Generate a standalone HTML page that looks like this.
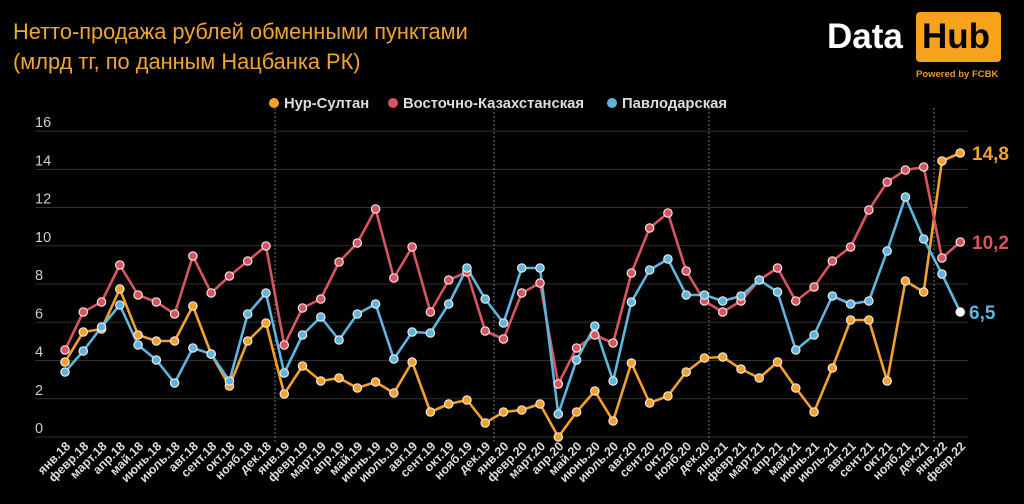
<!DOCTYPE html>
<html><head><meta charset="utf-8">
<style>
html,body{margin:0;padding:0;background:#000;}
body{width:1024px;height:504px;overflow:hidden;position:relative;font-family:"Liberation Sans",sans-serif;}
.t{position:absolute;left:13px;color:#f0a530;font-size:21.8px;}
</style></head><body>
<div class="t" style="top:19px">Нетто-продажа рублей обменными пунктами</div>
<div class="t" style="top:49px">(млрд тг, по данным Нацбанка РК)</div>
<div style="position:absolute;left:827px;top:17px;color:#fff;font-weight:bold;font-size:35px;">Data</div>
<div style="position:absolute;left:916px;top:12px;width:85px;height:50px;background:#f7a21b;border-radius:4px;"></div>
<div style="position:absolute;left:922px;top:17px;color:#000;font-weight:bold;font-size:35px;">Hub</div>
<div style="position:absolute;left:916px;top:69px;color:#e8962a;font-weight:bold;font-size:9.5px;">Powered by FCBK</div>
<svg id="s" width="1024" height="504" style="position:absolute;left:0;top:0" xmlns="http://www.w3.org/2000/svg"></svg>
<script>
var NS="http://www.w3.org/2000/svg",s=document.getElementById('s');
function el(n,a,t){var e=document.createElementNS(NS,n);for(var k in a)e.setAttribute(k,a[k]);if(t!=null)e.textContent=t;s.appendChild(e);return e;}
for(var v=0;v<=16;v+=2){var y=437-v*19.12;el('line',{x1:35,x2:968,y1:y,y2:y,stroke:'#303030','stroke-width':1});el('text',{x:35,y:y-4,fill:'#ccc','font-size':14.5,'font-family':'Liberation Sans'},v);}
[275,494,709,934].forEach(function(x){el('line',{x1:x,x2:x,y1:108,y2:442,stroke:'#777','stroke-width':1,'stroke-dasharray':'2,2'});});
var X=function(i){return 65+18.27*i;};
var O=[362,332,329,289,335,341,341,306,354,386,341,323,394,366,381,378,388,382,393,362,412,404,400,423,412,410,404,437,412,391,421,363,403,396,372,358,357,369,378,362,388,412,368,320,320,381,281,292,161,153];
var R=[350,312,302,265,295,302,314,256,293,276,261,246,345,308,299,262,243,209,278,247,312,280,272,331,339,293,283,384,348,335,343,273,228,213,271,301,312,301,280,268,301,287,261,247,210,182,170,167,258,242];
var B=[372,351,327,305,345,360,383,348,354,381,314,293,373,335,317,340,314,304,359,332,333,304,268,299,323,268,268,414,360,326,381,302,270,259,295,295,301,296,280,292,350,335,296,304,301,251,197,239,274,312];
var ser=[[O,'#f2a12a'],[R,'#d65560'],[B,'#5cb6de']];
ser.forEach(function(p){var pts=p[0].map(function(y,i){return X(i)+','+y;}).join(' ');el('polyline',{points:pts,fill:'none',stroke:p[1],'stroke-width':2.6,'stroke-linejoin':'round'});});
ser.forEach(function(p){p[0].forEach(function(y,i){el('circle',{cx:X(i),cy:y,r:4.2,fill:p[1],stroke:'#f3e6e6','stroke-width':1.2});});});
el('circle',{cx:X(49),cy:312,r:4.2,fill:'#fff'});
el('text',{x:972,y:160,fill:'#f2a12a','font-size':19,'font-weight':'bold','font-family':'Liberation Sans'},'14,8');
el('text',{x:972,y:249,fill:'#d65560','font-size':19,'font-weight':'bold','font-family':'Liberation Sans'},'10,2');
el('text',{x:969,y:319,fill:'#5cb6de','font-size':19,'font-weight':'bold','font-family':'Liberation Sans'},'6,5');
var leg=[[274,'#f2a12a','Нур-Султан'],[393,'#d65560','Восточно-Казахстанская'],[612,'#5cb6de','Павлодарская']];
leg.forEach(function(l){el('circle',{cx:l[0],cy:103,r:5,fill:l[1]});el('text',{x:l[0]+10,y:108,fill:'#ddd','font-size':14.8,'font-weight':'bold','font-family':'Liberation Sans'},l[2]);});
var m=['янв','февр','март','апр','май','июнь','июль','авг','сент','окт','нояб','дек'];
for(var i=0;i<50;i++){var yr=18+Math.floor(i/12),lab=m[i%12]+'.'+yr,x=X(i)+6,y=447;
el('text',{x:x,y:y,fill:'#ddd','font-size':12.5,'font-weight':'bold','text-anchor':'end','font-family':'Liberation Sans',transform:'rotate(-45 '+x+' '+y+')'},lab);}
</script>
</body></html>
